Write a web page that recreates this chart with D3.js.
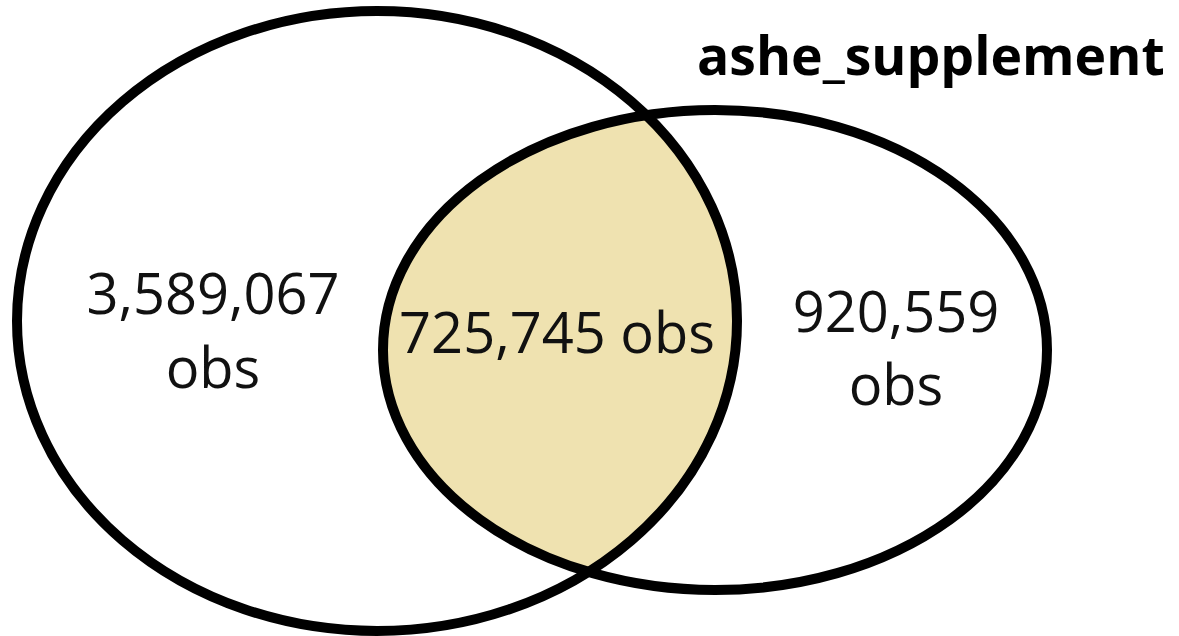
<!DOCTYPE html>
<html>
<head>
<meta charset="utf-8">
<script src="https://cdn.jsdelivr.net/npm/d3@7"></script>
<style>
  html, body { margin: 0; padding: 0; background: #fff; }
  svg { display: block; }
</style>
</head>
<body>
<svg id="chart" width="1179" height="636"></svg>
<script>
// ---- data ----
const setNames = ["", "ashe_supplement"];
const onlyCounts = [3589067, 920559];
const overlapCount = 725745;
const unitLabel = "obs";

// ---- layout ----
const svg = d3.select("#chart");
const fmt = d3.format(",");

const ellipses = [
  { cx: 377, cy: 321, rx: 360, ry: 310 },
  { cx: 715, cy: 350, rx: 332, ry: 240 }
];

const defs = svg.append("defs");
defs.append("clipPath").attr("id", "clipLeft")
  .append("ellipse")
  .attr("cx", ellipses[0].cx).attr("cy", ellipses[0].cy)
  .attr("rx", ellipses[0].rx).attr("ry", ellipses[0].ry);

// intersection fill
svg.append("ellipse")
  .attr("cx", ellipses[1].cx).attr("cy", ellipses[1].cy)
  .attr("rx", ellipses[1].rx).attr("ry", ellipses[1].ry)
  .attr("clip-path", "url(#clipLeft)")
  .attr("fill", "#efe2b0");

// outlines
svg.selectAll("ellipse.set")
  .data(ellipses)
  .join("ellipse")
  .attr("class", "set")
  .attr("cx", d => d.cx).attr("cy", d => d.cy)
  .attr("rx", d => d.rx).attr("ry", d => d.ry)
  .attr("fill", "none")
  .attr("stroke", "#000")
  .attr("stroke-width", 10);

const font = "'Open Sans', 'DejaVu Sans', sans-serif";

// region labels
const labels = [
  { lines: [fmt(onlyCounts[0]), unitLabel], x: 213, y: [314, 388] },
  { lines: [fmt(overlapCount) + " " + unitLabel], x: 557, y: [353] },
  { lines: [fmt(onlyCounts[1]), unitLabel], x: 896, y: [332, 405] }
];
labels.forEach(l => {
  l.lines.forEach((t, i) => {
    svg.append("text")
      .attr("x", l.x).attr("y", l.y[i])
      .attr("text-anchor", "middle")
      .attr("font-family", font)
      .attr("font-size", 56)
      .attr("fill", "#111")
      .text(t);
  });
});

// set name
svg.append("text")
  .attr("x", 697).attr("y", 75)
  .attr("font-family", font)
  .attr("font-weight", "bold")
  .attr("font-size", 53.5)
  .attr("fill", "#000")
  .text(setNames[1]);
</script>
</body>
</html>
